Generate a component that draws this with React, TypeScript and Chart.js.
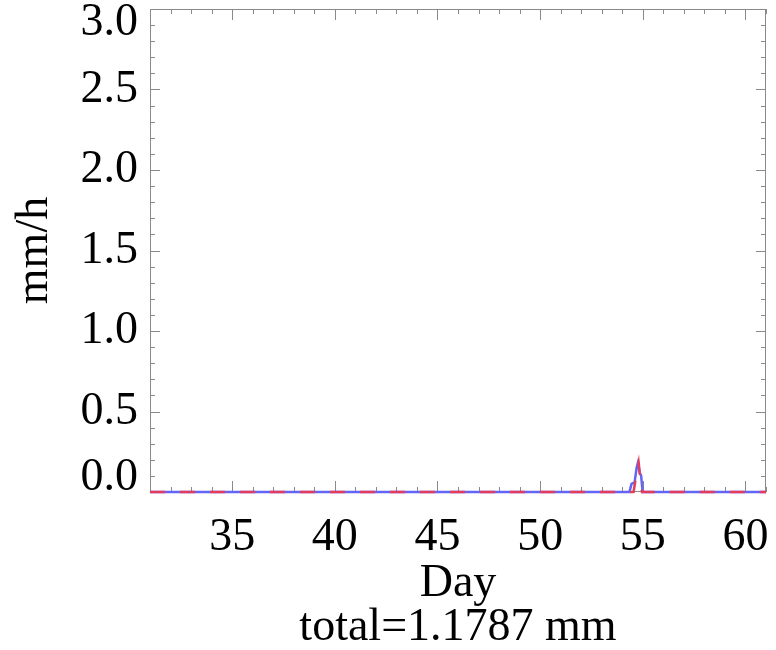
import React, { useEffect, useRef } from "react";
import { Chart, registerables } from "chart.js";

Chart.register(...registerables);

// Data (day, mm/h)
const blueDays = [31, 54.35, 54.45, 54.6, 54.7, 54.76, 54.85, 54.92, 54.99, 61];
const blueRain = [0, 0, 0.05, 0.06, 0.15, 0.18, 0.12, 0.1, 0, 0];
const redDays = [31, 54.55, 54.65, 54.72, 54.8, 54.9, 54.96, 61];
const redRain = [0, 0, 0.08, 0.12, 0.18, 0.06, 0, 0];

const xTickValues = [35, 40, 45, 50, 55, 60];
const yTickValues = [0, 0.5, 1.0, 1.5, 2.0, 2.5, 3.0];
const xRange = [31, 61];
const yRange = [0, 3];
const xTitleLines = ["Day", "total=1.1787 mm"];
const yTitle = "mm/h";

const FONT = "'Liberation Serif', 'Times New Roman', serif";
const AXIS_COLOR = "#8a8a8a";

const frameTicks = {
  id: "frameTicks",
  beforeDatasetsDraw(chart: any) {
    const { ctx, chartArea } = chart;
    const { left, right, top, bottom } = chartArea;
    const xs = chart.scales.x;
    const ys = chart.scales.y;
    ctx.save();
    ctx.strokeStyle = AXIS_COLOR;
    ctx.lineWidth = 1;
    ctx.beginPath();
    ctx.rect(left + 0.5, top + 0.5, right - left - 1, bottom - top - 1);
    ctx.stroke();
    ctx.beginPath();
    for (let v = xRange[0]; v <= xRange[1]; v += 1) {
      const major = v % 5 === 0;
      const len = major ? 11 : 5;
      const px = Math.round(xs.getPixelForValue(v)) + 0.5;
      ctx.moveTo(px, bottom);
      ctx.lineTo(px, bottom - len);
      ctx.moveTo(px, top);
      ctx.lineTo(px, top + len);
    }
    for (let i = 0; i <= 30; i++) {
      const v = i / 10;
      const major = i % 5 === 0;
      const len = major ? 10 : 5;
      const py = Math.round(ys.getPixelForValue(v)) + 0.5;
      ctx.moveTo(left, py);
      ctx.lineTo(left + len, py);
      ctx.moveTo(right, py);
      ctx.lineTo(right - len, py);
    }
    ctx.stroke();
    ctx.restore();
  },
};

export default function App() {
  const canvasRef = useRef<HTMLCanvasElement | null>(null);

  useEffect(() => {
    document.body.style.margin = "0";
    const canvas = canvasRef.current;
    if (!canvas) return;
    const chart = new Chart(canvas, {
      type: "line",
      data: {
        datasets: [
          {
            label: "red",
            data: redDays.map((d, i) => ({ x: d, y: redRain[i] })),
            borderColor: "#e23c5e",
            borderWidth: 2.5,
            borderDash: [15, 15],
            pointRadius: 0,
            tension: 0,
            clip: 4,
          },
          {
            label: "blue",
            data: blueDays.map((d, i) => ({ x: d, y: blueRain[i] })),
            borderColor: "#6464f5",
            borderWidth: 2.5,
            pointRadius: 0,
            tension: 0,
            clip: 4,
          },
        ],
      },
      options: {
        responsive: false,
        animation: false,
        devicePixelRatio: 1,
        layout: { autoPadding: false, padding: { top: 9, right: 10, left: 0, bottom: 0 } },
        plugins: {
          legend: { display: false },
          tooltip: { enabled: false },
        },
        scales: {
          x: {
            type: "linear",
            min: xRange[0],
            max: xRange[1],
            afterBuildTicks: (axis: any) => {
              axis.ticks = xTickValues.map((v) => ({ value: v }));
            },
            afterFit: (axis: any) => {
              axis.height = 158;
              axis.paddingLeft = 0;
              axis.paddingRight = 0;
            },
            grid: { display: false, drawTicks: false },
            border: { display: false },
            ticks: {
              autoSkip: false,
              maxRotation: 0,
              padding: 18,
              color: "#000",
              font: { family: FONT, size: 46 },
              callback: (v: any) => String(v),
            },
            title: {
              display: true,
              text: xTitleLines,
              color: "#000",
              font: { family: FONT, size: 46, lineHeight: 0.96 },
              padding: { top: 0, bottom: 0 },
            },
          },
          y: {
            type: "linear",
            min: yRange[0],
            max: yRange[1],
            afterBuildTicks: (axis: any) => {
              axis.ticks = yTickValues.map((v) => ({ value: v }));
            },
            afterFit: (axis: any) => {
              axis.width = 150;
              axis.paddingTop = 0;
              axis.paddingBottom = 0;
            },
            grid: { display: false, drawTicks: false },
            border: { display: false },
            ticks: {
              autoSkip: false,
              padding: 12,
              color: "#000",
              font: { family: FONT, size: 46, lineHeight: "28px" },
              callback: (v: any) => {
                const s = Number(v).toFixed(1);
                if (v === yRange[1]) return ["", s];
                if (v === yRange[0]) return [s, ""];
                return s;
              },
            },
            title: {
              display: true,
              text: yTitle,
              color: "#000",
              font: { family: FONT, size: 46, lineHeight: 0.96 },
              padding: { top: 13, bottom: 0 },
            },
          },
        },
      },
      plugins: [frameTicks],
    } as any);
    return () => chart.destroy();
  }, []);

  return (
    <div style={{ width: 776, height: 650 }}>
      <canvas ref={canvasRef} width={776} height={650} style={{ display: "block" }} />
    </div>
  );
}
